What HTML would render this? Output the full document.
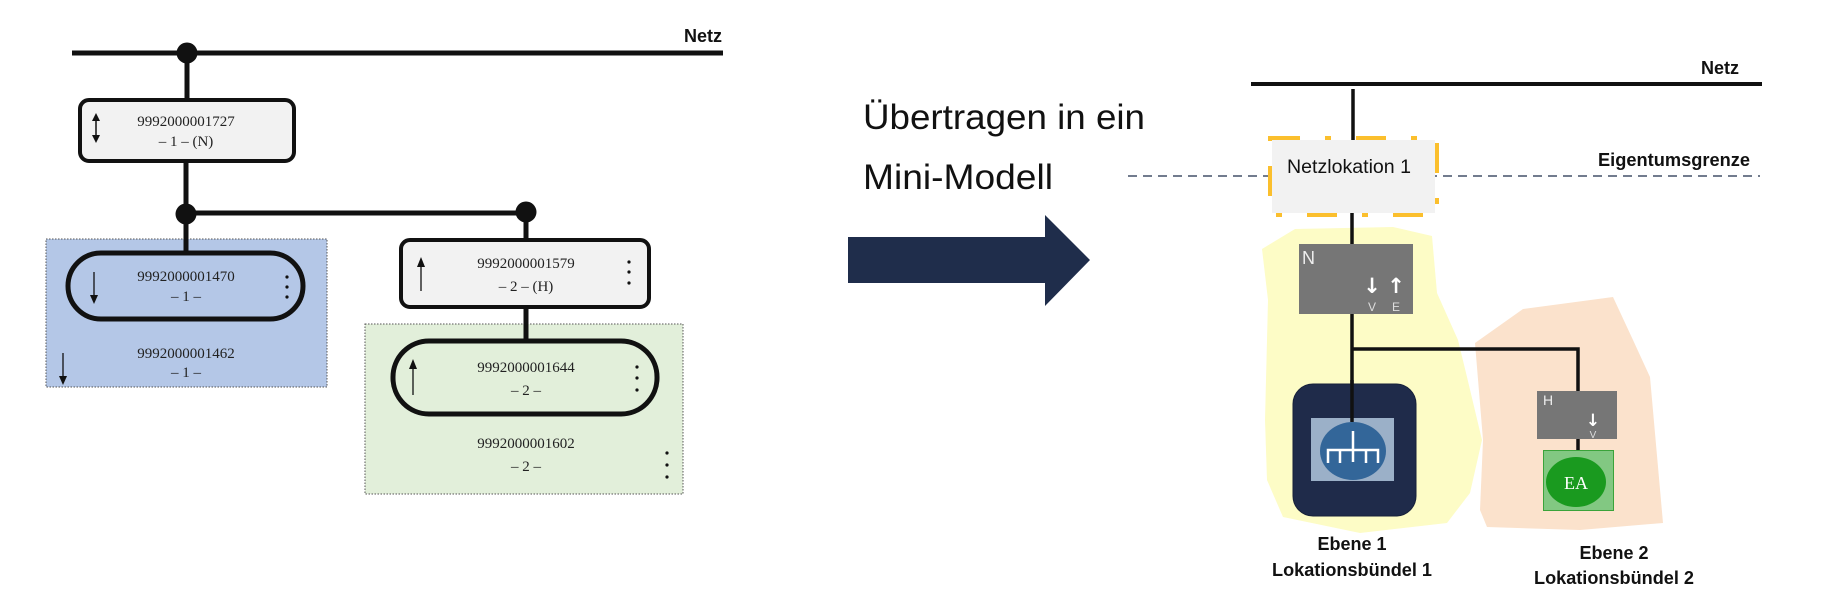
<!DOCTYPE html>
<html><head><meta charset="utf-8"><style>
html,body{margin:0;padding:0;background:#fff;}
svg{display:block;}
.tn{font-family:"Liberation Serif",serif;font-size:15px;fill:#222;}
.sb{font-family:"Liberation Sans",sans-serif;font-weight:bold;fill:#111;}
</style></head><body>
<svg width="1837" height="605" viewBox="0 0 1837 605" xmlns="http://www.w3.org/2000/svg">
<!-- LEFT -->
<text x="722" y="42" class="sb" font-size="18" text-anchor="end">Netz</text>
<line x1="72" y1="53" x2="723" y2="53" stroke="#111" stroke-width="5"/>
<line x1="187" y1="53" x2="187" y2="100" stroke="#111" stroke-width="5"/>
<circle cx="187" cy="53" r="10.5" fill="#111"/>
<rect x="80" y="100" width="214" height="61" rx="9" fill="#f2f2f2" stroke="#111" stroke-width="4"/>
<text x="186" y="126" class="tn" text-anchor="middle">9992000001727</text>
<text x="186" y="146" class="tn" text-anchor="middle">– 1 – (N)</text>
<line x1="96" y1="120" x2="96" y2="136" stroke="#111" stroke-width="1.5"/>
<path d="M92,121 L96,113 L100,121 Z M92,135 L96,143 L100,135 Z" fill="#111"/>
<line x1="186" y1="162" x2="186" y2="214" stroke="#111" stroke-width="5"/>
<line x1="186" y1="213" x2="526" y2="213" stroke="#111" stroke-width="5"/>
<circle cx="186" cy="214" r="10.5" fill="#111"/>
<circle cx="526" cy="212" r="10.5" fill="#111"/>
<!-- blue group -->
<rect x="46" y="239" width="281" height="148" fill="#b4c7e7" stroke="#555" stroke-width="1" stroke-dasharray="1.5,1.5"/>
<line x1="186" y1="214" x2="186" y2="253" stroke="#111" stroke-width="5"/>
<rect x="68" y="253" width="235" height="66" rx="33" fill="#b4c7e7" stroke="#111" stroke-width="5"/>
<text x="186" y="281" class="tn" text-anchor="middle">9992000001470</text>
<text x="186" y="301" class="tn" text-anchor="middle">– 1 –</text>
<line x1="94" y1="272" x2="94" y2="296" stroke="#111" stroke-width="1.3"/>
<path d="M90,295 L94,304 L98,295 Z" fill="#111"/>
<circle cx="287" cy="277" r="1.6" fill="#111"/><circle cx="287" cy="287" r="1.6" fill="#111"/><circle cx="287" cy="297" r="1.6" fill="#111"/>
<text x="186" y="358" class="tn" text-anchor="middle">9992000001462</text>
<text x="186" y="377" class="tn" text-anchor="middle">– 1 –</text>
<line x1="63" y1="353" x2="63" y2="377" stroke="#111" stroke-width="1.3"/>
<path d="M59,376 L63,385 L67,376 Z" fill="#111"/>
<!-- right-left group -->
<line x1="526" y1="212" x2="526" y2="240" stroke="#111" stroke-width="5"/>
<rect x="401" y="240" width="248" height="67" rx="9" fill="#f2f2f2" stroke="#111" stroke-width="4"/>
<text x="526" y="268" class="tn" text-anchor="middle">9992000001579</text>
<text x="526" y="291" class="tn" text-anchor="middle">– 2 – (H)</text>
<line x1="421" y1="266" x2="421" y2="291" stroke="#111" stroke-width="1.3"/>
<path d="M417,267 L421,257 L425,267 Z" fill="#111"/>
<circle cx="629" cy="262" r="1.6" fill="#111"/><circle cx="629" cy="272" r="1.6" fill="#111"/><circle cx="629" cy="283" r="1.6" fill="#111"/>
<rect x="365" y="324" width="318" height="170" fill="#e2efda" stroke="#555" stroke-width="1" stroke-dasharray="1.5,1.5"/>
<line x1="526" y1="307" x2="526" y2="341" stroke="#111" stroke-width="5"/>
<rect x="393" y="341" width="264" height="73" rx="36" fill="#e2efda" stroke="#111" stroke-width="5"/>
<text x="526" y="372" class="tn" text-anchor="middle">9992000001644</text>
<text x="526" y="395" class="tn" text-anchor="middle">– 2 –</text>
<line x1="413" y1="368" x2="413" y2="395" stroke="#111" stroke-width="1.3"/>
<path d="M409,369 L413,359 L417,369 Z" fill="#111"/>
<circle cx="637" cy="367" r="1.6" fill="#111"/><circle cx="637" cy="378" r="1.6" fill="#111"/><circle cx="637" cy="390" r="1.6" fill="#111"/>
<text x="526" y="448" class="tn" text-anchor="middle">9992000001602</text>
<text x="526" y="471" class="tn" text-anchor="middle">– 2 –</text>
<circle cx="667" cy="453" r="1.6" fill="#111"/><circle cx="667" cy="465" r="1.6" fill="#111"/><circle cx="667" cy="477" r="1.6" fill="#111"/>
<!-- MIDDLE -->
<text x="863" y="129" font-family="Liberation Sans, sans-serif" font-size="35" fill="#111" textLength="282" lengthAdjust="spacingAndGlyphs">Übertragen in ein</text>
<text x="863" y="189" font-family="Liberation Sans, sans-serif" font-size="35" fill="#111" textLength="190" lengthAdjust="spacingAndGlyphs">Mini-Modell</text>
<path d="M848,237 L1045,237 L1045,215 L1090,260 L1045,306 L1045,283 L848,283 Z" fill="#1f2d4b"/>
<!-- RIGHT -->
<polygon points="1295,229 1393,227 1432,236 1437,293 1458,340 1467,377 1482,440 1470,493 1447,523 1360,533 1283,517 1267,480 1265,420 1268,300 1262,249" fill="#fdfcc6"/>
<polygon points="1523,309 1613,297 1633,340 1650,377 1663,523 1580,530 1487,527 1480,510 1483,440 1475,343" fill="#fbe2cc"/>
<line x1="1128" y1="176" x2="1760" y2="176" stroke="#1f2d4b" stroke-width="1.2" stroke-dasharray="9,6"/>
<text x="1739" y="74" class="sb" font-size="18" text-anchor="end">Netz</text>
<line x1="1251" y1="84" x2="1762" y2="84" stroke="#111" stroke-width="4"/>
<line x1="1353" y1="89" x2="1353" y2="140" stroke="#111" stroke-width="3.5"/>
<text x="1750" y="166" class="sb" font-size="18" text-anchor="end" textLength="152" lengthAdjust="spacingAndGlyphs">Eigentumsgrenze</text>
<rect x="1272" y="140" width="163" height="73" fill="#f2f2f2"/>
<rect x="1270" y="138" width="167" height="77" fill="none" stroke="#fbbf2d" stroke-width="4" stroke-dasharray="30,25,6,25"/>
<text x="1287" y="173" font-family="Liberation Sans, sans-serif" font-size="19" fill="#111" textLength="124" lengthAdjust="spacingAndGlyphs">Netzlokation 1</text>
<line x1="1352" y1="213" x2="1352" y2="420" stroke="#111" stroke-width="3.5"/>
<rect x="1299" y="244" width="114" height="70" fill="#767676"/>
<text x="1302" y="264" font-family="Liberation Sans, sans-serif" font-size="18" fill="#eee">N</text>
<text x="1372" y="293" font-family="DejaVu Sans, sans-serif" font-size="21" font-weight="bold" fill="#fff" text-anchor="middle">↓</text>
<text x="1396" y="293" font-family="DejaVu Sans, sans-serif" font-size="21" font-weight="bold" fill="#fff" text-anchor="middle">↑</text>
<text x="1372" y="311" font-family="Liberation Sans, sans-serif" font-size="12" fill="#ddd" text-anchor="middle">V</text>
<text x="1396" y="311" font-family="Liberation Sans, sans-serif" font-size="12" fill="#ddd" text-anchor="middle">E</text>
<polyline points="1353,349 1578,349 1578,391" fill="none" stroke="#111" stroke-width="3.5"/>
<rect x="1293" y="384" width="123" height="132" rx="20" fill="#1f2b4a" stroke="#17213a" stroke-width="1"/>
<rect x="1311" y="418" width="83" height="63" fill="#9bb0c8"/>
<line x1="1352" y1="380" x2="1352" y2="422" stroke="#111" stroke-width="3.5"/>
<ellipse cx="1353" cy="451" rx="33" ry="29" fill="#336699"/>
<path d="M1353,431 V462 M1328,463 V450 H1378 V463 M1340,450 V463 M1366,450 V463" fill="none" stroke="#fff" stroke-width="2.5"/>
<rect x="1537" y="391" width="80" height="48" fill="#767676"/>
<text x="1543" y="405" font-family="Liberation Sans, sans-serif" font-size="14" fill="#eee">H</text>
<text x="1593" y="426" font-family="DejaVu Sans, sans-serif" font-size="17" font-weight="bold" fill="#fff" text-anchor="middle">↓</text>
<text x="1593" y="438" font-family="Liberation Sans, sans-serif" font-size="10" fill="#ddd" text-anchor="middle">V</text>
<line x1="1578" y1="439" x2="1578" y2="451" stroke="#111" stroke-width="3.5"/>
<rect x="1543.5" y="450.5" width="70" height="60" fill="#82c882" stroke="#3aa33a" stroke-width="1"/>
<ellipse cx="1576" cy="482" rx="30" ry="25" fill="#1a9a1f"/>
<text x="1576" y="489" font-family="Liberation Serif, serif" font-size="18" fill="#fff" text-anchor="middle">EA</text>
<text x="1352" y="550" class="sb" font-size="18" text-anchor="middle">Ebene 1</text>
<text x="1352" y="576" class="sb" font-size="18" text-anchor="middle" textLength="160" lengthAdjust="spacingAndGlyphs">Lokationsbündel 1</text>
<text x="1614" y="559" class="sb" font-size="18" text-anchor="middle">Ebene 2</text>
<text x="1614" y="584" class="sb" font-size="18" text-anchor="middle" textLength="160" lengthAdjust="spacingAndGlyphs">Lokationsbündel 2</text>
</svg>
</body></html>
